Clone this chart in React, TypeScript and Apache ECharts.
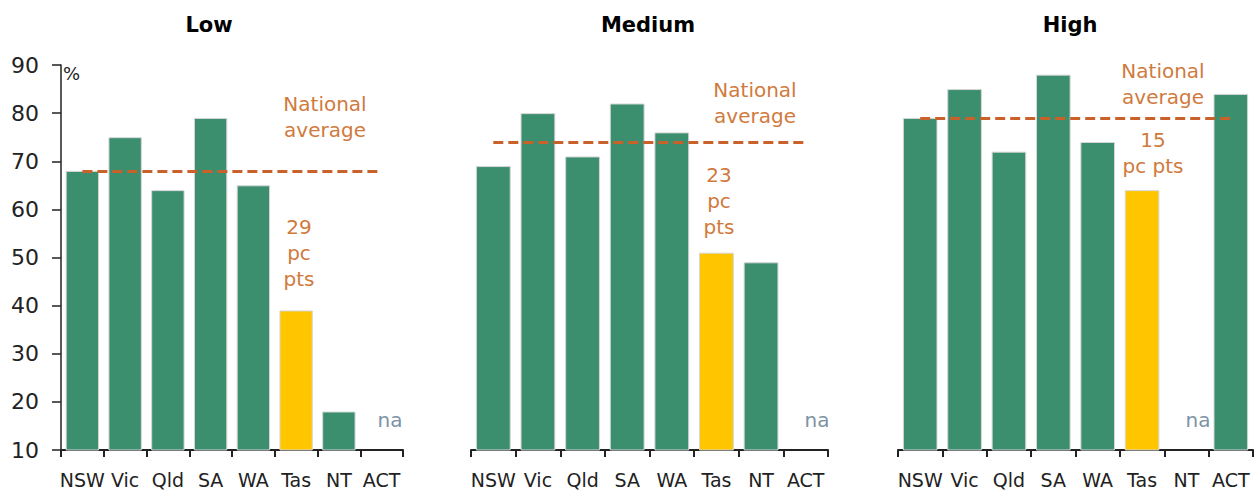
import React, { useEffect, useRef } from "react";
import * as echarts from "echarts";

const categories = ["NSW", "Vic", "Qld", "SA", "WA", "Tas", "NT", "ACT"];
const panelTitles = ["Low", "Medium", "High"];
const lowValues: (number | null)[] = [68, 75, 64, 79, 65, 39, 18, null];
const mediumValues: (number | null)[] = [69, 80, 71, 82, 76, 51, 49, null];
const highValues: (number | null)[] = [79, 85, 72, 88, 74, 64, null, 84];
const nationalAverages = [68, 74, 79];
const gapLabels = ["29\npc\npts", "23\npc\npts", "15\npc pts"];
const yTicks = [10, 20, 30, 40, 50, 60, 70, 80, 90];

const GREEN = "#3b8e6e";
const YELLOW = "#ffc600";
const ORANGE = "#c8612a";
const ORANGE_TEXT = "#d07a3e";
const NA_COLOR = "#7d93a6";
const FONT = "'DejaVu Sans', 'Noto Sans', sans-serif";

const grids = [
  { left: 61, width: 342, top: 65, bottom: 42 },
  { left: 471, width: 357, top: 65, bottom: 42 },
  { left: 898, width: 355, top: 65, bottom: 42 },
];

export default function App() {
  const ref = useRef<HTMLDivElement>(null);
  useEffect(() => {
    if (!ref.current) return;
    const chart = echarts.init(ref.current, null, { renderer: "svg" });
    const allValues = [lowValues, mediumValues, highValues];

    const series: any[] = allValues.map((vals, i) => ({
      type: "bar",
      xAxisIndex: i,
      yAxisIndex: i,
      barCategoryGap: "22%",
      data: vals.map((v, j) => ({
        value: v,
        itemStyle: {
          color: categories[j] === "Tas" ? YELLOW : GREEN,
          borderColor: "#d6d6d6",
          borderWidth: 1,
        },
      })),
      markLine: {
        silent: true,
        symbol: "none",
        label: { show: false },
        lineStyle: { color: ORANGE, type: [10, 5], width: 3 },
        data: [
          [
            { coord: ["NSW", nationalAverages[i]] },
            { coord: ["ACT", nationalAverages[i]] },
          ],
        ],
      },
    }));

    const textStyle = (extra: any) => ({
      font: `20px ${FONT}`,
      fill: ORANGE_TEXT,
      textAlign: "center",
      textVerticalAlign: "top",
      lineHeight: 26,
      ...extra,
    });
    const naStyle = { text: "na", font: `20px ${FONT}`, fill: NA_COLOR, textAlign: "center" };

    const graphic: any[] = [
      ...panelTitles.map((t, i) => ({
        type: "text",
        x: [209, 648, 1070][i],
        y: 14,
        style: {
          text: t,
          font: `bold 21px ${FONT}`,
          fill: "#000",
          textAlign: "center",
        },
      })),
      { type: "text", x: 63, y: 64, style: { text: "%", font: `18px ${FONT}`, fill: "#222" } },
      { type: "text", x: 325, y: 91, style: textStyle({ text: "National\naverage" }) },
      { type: "text", x: 755, y: 77, style: textStyle({ text: "National\naverage" }) },
      { type: "text", x: 1163, y: 58, style: textStyle({ text: "National\naverage" }) },
      { type: "text", x: 299, y: 214, style: textStyle({ text: gapLabels[0] }) },
      { type: "text", x: 719, y: 162, style: textStyle({ text: gapLabels[1] }) },
      { type: "text", x: 1153, y: 127, style: textStyle({ text: gapLabels[2] }) },
      { type: "text", x: 390, y: 410, style: naStyle },
      { type: "text", x: 817, y: 410, style: naStyle },
      { type: "text", x: 1198, y: 410, style: naStyle },
    ];

    chart.setOption({
      animation: false,
      backgroundColor: "#fff",
      grid: grids,
      xAxis: grids.map((_, i) => ({
        type: "category",
        gridIndex: i,
        data: categories,
        axisLine: { show: true, lineStyle: { color: "#222", width: 2 } },
        axisTick: { show: true, alignWithLabel: false, length: 7, lineStyle: { color: "#222", width: 2 } },
        axisLabel: { color: "#222", fontSize: 19, fontFamily: FONT, margin: 20, interval: 0 },
      })),
      yAxis: grids.map((_, i) => ({
        type: "value",
        gridIndex: i,
        min: 10,
        max: 90,
        interval: 10,
        show: i === 0,
        splitLine: { show: false },
        axisLine: { show: i === 0, lineStyle: { color: "#222", width: 1.5 } },
        axisTick: { show: i === 0, length: 9, lineStyle: { color: "#222", width: 1.5 } },
        axisLabel: {
          show: i === 0,
          color: "#222",
          fontSize: 22,
          fontFamily: FONT,
          margin: 22,
          formatter: (v: number) => (yTicks.includes(v) ? String(v) : ""),
        },
      })),
      series,
      graphic,
    });
    return () => chart.dispose();
  }, []);
  return (
    <div
      ref={ref}
      style={{ position: "fixed", left: 0, top: 0, width: 1254, height: 492 }}
    />
  );
}
